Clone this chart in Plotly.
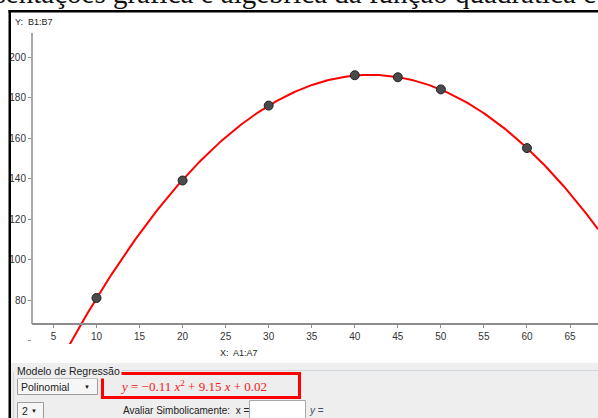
import numpy as np
import plotly.graph_objects as go

# ---- data ----
x_values = [10, 20, 30, 40, 45, 50, 60]
y_values = [81, 139, 176, 191, 190, 184, 155]
x_ticks = [5, 10, 15, 20, 25, 30, 35, 40, 45, 50, 55, 60, 65]
y_ticks = [60, 80, 100, 120, 140, 160, 180, 200]
y_tick_labels = ["", "80", "100", "120", "140", "160", "180", "200"]
x_label = "X:  A1:A7"
y_label = "Y:  B1:B7"
equation = "<i>y</i> = \u22120.11 <i>x</i><sup>2</sup> + 9.15 <i>x</i> + 0.02"
header = "representações gráfica e algébrica da função quadrática c"

# ---- layout geometry (pixels) ----
FW, FH = 598, 418
L, T, R, B = 32, 33, 598, 344
W, H = R - L, B - T
X_RANGE = [2.51, 68.25]
Y_RANGE = [58.27, 211.85]
XAXIS_PY = 324


def px(v):
    return (v - L) / W


def py(v):
    return (B - v) / H


coeffs = np.polyfit(x_values, y_values, 2)
curve_x = np.linspace(X_RANGE[0], X_RANGE[1], 400)
curve_y = np.polyval(coeffs, curve_x)

fig = go.Figure()
fig.add_trace(go.Scatter(x=curve_x, y=curve_y, mode="lines",
                         line=dict(color="#ff0000", width=2), hoverinfo="skip"))
fig.add_trace(go.Scatter(x=x_values, y=y_values, mode="markers",
                         marker=dict(size=9, color="#4a4a4a",
                                     line=dict(color="#222222", width=1))))

SANS = "Liberation Sans, Arial, sans-serif"
SERIF = "Liberation Serif, Times New Roman, serif"

fig.update_layout(
    width=FW, height=FH, autosize=False,
    margin=dict(l=L, r=FW - R, t=T, b=FH - B, pad=0),
    paper_bgcolor="white", plot_bgcolor="white",
    showlegend=False,
    xaxis=dict(range=X_RANGE, anchor="free", position=(B - XAXIS_PY) / H,
               showline=True, linecolor="#8c8c8c", linewidth=1.5,
               ticks="outside", ticklen=3, tickcolor="#8c8c8c", tickwidth=1,
               tickvals=x_ticks, tickfont=dict(family=SANS, size=10, color="#333333"),
               showgrid=False, zeroline=False, fixedrange=True),
    yaxis=dict(range=Y_RANGE, showline=False,
               ticks="outside", ticklen=3, tickcolor="#8c8c8c", tickwidth=1,
               tickvals=y_ticks, ticktext=y_tick_labels,
               tickfont=dict(family=SANS, size=10, color="#333333"),
               showgrid=False, zeroline=False, fixedrange=True),
)

shapes = []
# y-axis line (from top down to the x axis)
shapes.append(dict(type="line", xref="paper", yref="paper", x0=0, x1=0,
                   y0=py(XAXIS_PY), y1=1, line=dict(color="#8c8c8c", width=1.5)))
# black frame
shapes.append(dict(type="rect", xref="paper", yref="paper",
                   x0=px(8.5), x1=px(FW + 5), y0=py(12.5), y1=py(10),
                   fillcolor="black", line=dict(width=0)))
shapes.append(dict(type="rect", xref="paper", yref="paper",
                   x0=px(8.5), x1=px(11), y0=py(FH + 5), y1=py(10),
                   fillcolor="black", line=dict(width=0)))
# gray panel
shapes.append(dict(type="rect", xref="paper", yref="paper",
                   x0=px(11), x1=px(FW + 5), y0=py(FH + 5), y1=py(363),
                   fillcolor="#eeeeee", line=dict(width=0)))
shapes.append(dict(type="line", xref="paper", yref="paper",
                   x0=px(114), x1=px(FW + 5), y0=py(370.5), y1=py(370.5),
                   line=dict(color="#cfd6de", width=1)))
shapes.append(dict(type="line", xref="paper", yref="paper",
                   x0=px(13.5), x1=px(13.5), y0=py(FH + 5), y1=py(372),
                   line=dict(color="#cfd6de", width=1)))
# dropdowns
shapes.append(dict(type="rect", xref="paper", yref="paper",
                   x0=px(17.5), x1=px(97.5), y0=py(394.5), y1=py(378.5),
                   fillcolor="#f6f6f6", line=dict(color="#9c9c9c", width=1)))
shapes.append(dict(type="rect", xref="paper", yref="paper",
                   x0=px(17.5), x1=px(43.5), y0=py(FH + 5), y1=py(402.5),
                   fillcolor="#f6f6f6", line=dict(color="#9c9c9c", width=1)))
# red box around equation
shapes.append(dict(type="rect", xref="paper", yref="paper",
                   x0=px(102.5), x1=px(299.5), y0=py(397.5), y1=py(373.5),
                   fillcolor="rgba(0,0,0,0)", line=dict(color="#ff0000", width=3)))
# input box
shapes.append(dict(type="rect", xref="paper", yref="paper",
                   x0=px(249.5), x1=px(305.5), y0=py(FH + 5), y1=py(400.5),
                   fillcolor="white", line=dict(color="#a8a8a8", width=1)))
fig.update_layout(shapes=shapes)


def ann(text, x, y, size=10, xanchor="left", family=SANS, color="#222222", **kw):
    fig.add_annotation(text=text, x=px(x), y=py(y), xref="paper", yref="paper",
                       xanchor=xanchor, yanchor="middle", showarrow=False,
                       font=dict(family=family, size=size, color=color), **kw)


ann(header, -67, -7, size=29, family=SERIF, color="#111111")
ann(y_label, 13, 22, size=9)
ann(x_label, 218, 353, size=9)
ann("Modelo de Regressão", 15, 371, size=10.5, bgcolor="#eeeeee")
ann("Polinomial", 19, 386.5, size=10.5)
ann("\u25BC", 87, 386.5, size=6, xanchor="center", color="#111111")
ann("2", 20, 411, size=10.5)
ann("\u25BC", 34, 411, size=6, xanchor="center", color="#111111")
ann(equation, 193, 386, size=13, xanchor="center", family=SERIF, color="#f02020")
ann("Avaliar Simbolicamente:  x =", 121, 410, size=10)
ann("<i>y</i> =", 307, 410, size=10, color="#44506a")

fig.write_html(
    "out.html",
    config=dict(displayModeBar=False),
    post_script="document.body.style.margin='0';document.body.style.overflow='hidden';",
)
